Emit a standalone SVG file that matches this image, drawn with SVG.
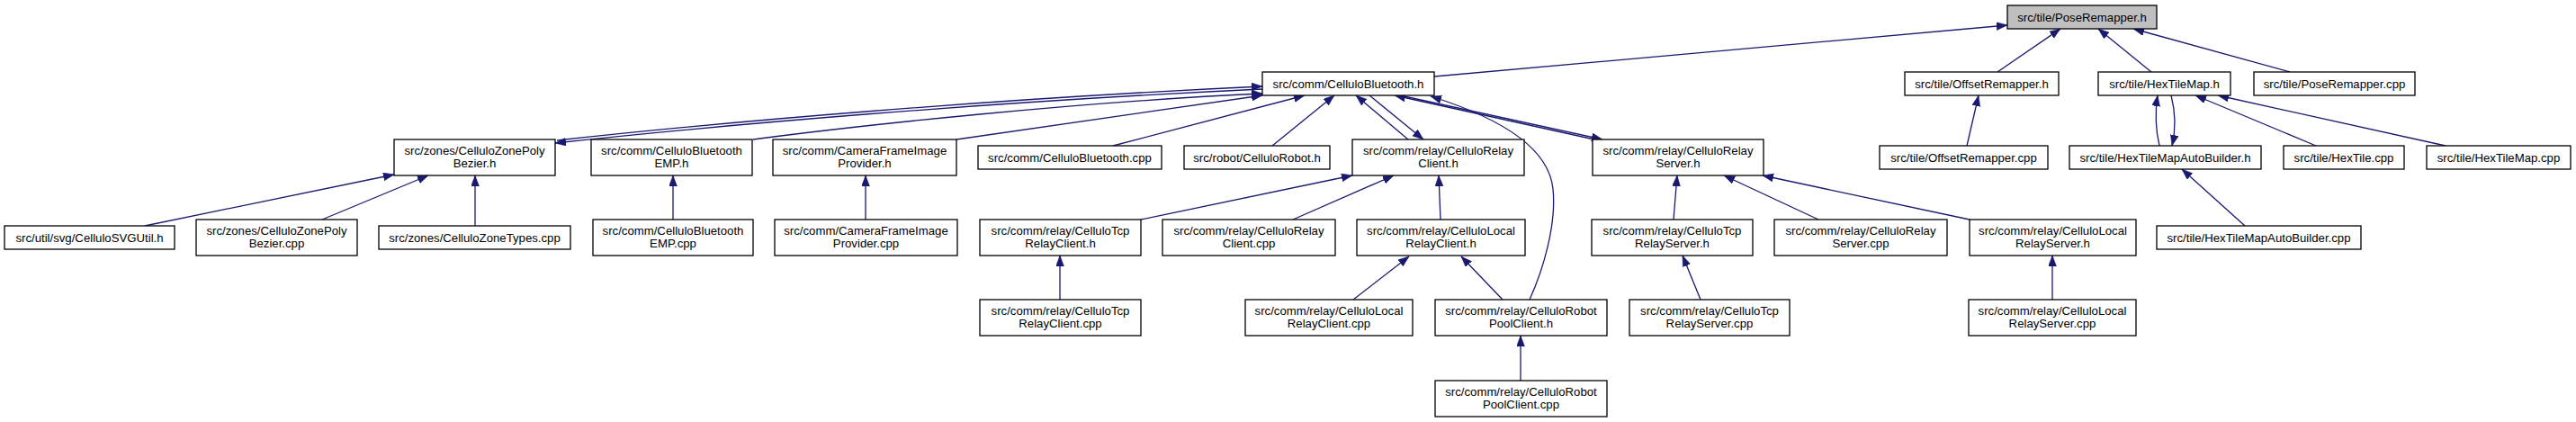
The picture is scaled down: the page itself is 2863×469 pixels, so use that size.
<svg xmlns="http://www.w3.org/2000/svg" width="2863" height="469" viewBox="0 0 2863 469">
<style>
.n rect{fill:#fff;stroke:#000;stroke-width:1.3}
.n rect.root{fill:#bfbfbf}
.n text{font-family:"Liberation Sans",Arial,Helvetica,sans-serif;font-size:13.2px;text-anchor:middle;fill:#000}
.e path{fill:none;stroke:#191970;stroke-width:1.3;marker-end:url(#a)}
</style>
<defs>
<marker id="a" markerUnits="userSpaceOnUse" markerWidth="14" markerHeight="10" refX="12" refY="4.5" orient="auto">
<path d="M0,0 L12,4.5 L0,9 z" fill="#191970" stroke="#191970" stroke-width="0.5"/>
</marker>
</defs>
<rect width="2863" height="469" fill="#fff"/>
<g id="edges" class="e">
<path d="M1594,85 L2231,28"/>
<path d="M2220,80 L2290,32"/>
<path d="M2391,80 L2332,32"/>
<path d="M2545,80 L2371,32"/>
<path d="M2186,162 L2199,106"/>
<path d="M2400,162 C2396,145 2395,125 2398,106"/>
<path d="M2413,106 C2418,125 2418,145 2414,162"/>
<path d="M2574,162 L2440,106"/>
<path d="M2718,162 L2465,106"/>
<path d="M2495,251 L2425,188"/>
<path d="M619,156 C800,136 1100,110 1403,96"/>
<path d="M1403,99 C1100,113 800,139 617,159"/>
<path d="M837,155 C950,140 1200,113 1403,104"/>
<path d="M1063,155 L1403,106"/>
<path d="M1237,162 L1450,106"/>
<path d="M1414,162 L1483,106"/>
<path d="M1565,155 L1507,106"/>
<path d="M1522,106 L1582,155"/>
<path d="M1772,155 L1550,106"/>
<path d="M1556,106 L1781,155"/>
<path d="M1700,333 C1715,300 1730,250 1726,210 C1722,170 1680,135 1590,107"/>
<path d="M1670,333 L1624,285"/>
<path d="M1504,333 L1566,285"/>
<path d="M1601,244 L1599,195"/>
<path d="M1268,244 L1503,195"/>
<path d="M1437,244 L1549,195"/>
<path d="M1178,333 L1178,284"/>
<path d="M1690,423 L1690,373"/>
<path d="M1860,244 L1864,195"/>
<path d="M2021,244 L1916,195"/>
<path d="M2189,244 L1959,195"/>
<path d="M1890,333 L1870,284"/>
<path d="M2281,333 L2281,284"/>
<path d="M528,251 L528,195"/>
<path d="M358,244 L476,195"/>
<path d="M161,251 L438,194"/>
<path d="M748,244 L748,195"/>
<path d="M962,244 L962,195"/>
</g>
<g id="n_PoseRemapper_h" class="n"><rect class="root" x="2231" y="6" width="166" height="26"/><text x="2314" y="23.5">src/tile/PoseRemapper.h</text></g>
<g id="n_CelluloBluetooth_h" class="n"><rect x="1403" y="80" width="191" height="26"/><text x="1498.5" y="97.5">src/comm/CelluloBluetooth.h</text></g>
<g id="n_OffsetRemapper_h" class="n"><rect x="2117" y="80" width="171" height="26"/><text x="2202.5" y="97.5">src/tile/OffsetRemapper.h</text></g>
<g id="n_HexTileMap_h" class="n"><rect x="2332" y="80" width="147" height="26"/><text x="2405.5" y="97.5">src/tile/HexTileMap.h</text></g>
<g id="n_PoseRemapper_cpp" class="n"><rect x="2505" y="80" width="179" height="26"/><text x="2594.5" y="97.5">src/tile/PoseRemapper.cpp</text></g>
<g id="n_ZonePolyBezier_h" class="n"><rect x="438" y="155" width="179" height="40"/><text x="527.5" y="171.5">src/zones/CelluloZonePoly</text><text x="527.5" y="186">Bezier.h</text></g>
<g id="n_BluetoothEMP_h" class="n"><rect x="657" y="155" width="179" height="40"/><text x="746.5" y="171.5">src/comm/CelluloBluetooth</text><text x="746.5" y="186">EMP.h</text></g>
<g id="n_CameraFrameImageProvider_h" class="n"><rect x="859" y="155" width="204" height="40"/><text x="961" y="171.5">src/comm/CameraFrameImage</text><text x="961" y="186">Provider.h</text></g>
<g id="n_CelluloBluetooth_cpp" class="n"><rect x="1087" y="162" width="204" height="26"/><text x="1189" y="179.5">src/comm/CelluloBluetooth.cpp</text></g>
<g id="n_CelluloRobot_h" class="n"><rect x="1316" y="162" width="162" height="26"/><text x="1397" y="179.5">src/robot/CelluloRobot.h</text></g>
<g id="n_CelluloRelayClient_h" class="n"><rect x="1503" y="155" width="191" height="40"/><text x="1598.5" y="171.5">src/comm/relay/CelluloRelay</text><text x="1598.5" y="186">Client.h</text></g>
<g id="n_CelluloRelayServer_h" class="n"><rect x="1770" y="155" width="190" height="40"/><text x="1865" y="171.5">src/comm/relay/CelluloRelay</text><text x="1865" y="186">Server.h</text></g>
<g id="n_OffsetRemapper_cpp" class="n"><rect x="2089" y="162" width="187" height="26"/><text x="2182.5" y="179.5">src/tile/OffsetRemapper.cpp</text></g>
<g id="n_HexTileMapAutoBuilder_h" class="n"><rect x="2300" y="162" width="213" height="26"/><text x="2406.5" y="179.5">src/tile/HexTileMapAutoBuilder.h</text></g>
<g id="n_HexTile_cpp" class="n"><rect x="2538" y="162" width="134" height="26"/><text x="2605" y="179.5">src/tile/HexTile.cpp</text></g>
<g id="n_HexTileMap_cpp" class="n"><rect x="2697" y="162" width="160" height="26"/><text x="2777" y="179.5">src/tile/HexTileMap.cpp</text></g>
<g id="n_CelluloSVGUtil_h" class="n"><rect x="5" y="251" width="189" height="26"/><text x="99.5" y="268.5">src/util/svg/CelluloSVGUtil.h</text></g>
<g id="n_ZonePolyBezier_cpp" class="n"><rect x="218" y="244" width="179" height="40"/><text x="307.5" y="260.5">src/zones/CelluloZonePoly</text><text x="307.5" y="275">Bezier.cpp</text></g>
<g id="n_CelluloZoneTypes_cpp" class="n"><rect x="421" y="251" width="213" height="26"/><text x="527.5" y="268.5">src/zones/CelluloZoneTypes.cpp</text></g>
<g id="n_BluetoothEMP_cpp" class="n"><rect x="659" y="244" width="178" height="40"/><text x="748" y="260.5">src/comm/CelluloBluetooth</text><text x="748" y="275">EMP.cpp</text></g>
<g id="n_CameraFrameImageProvider_cpp" class="n"><rect x="861" y="244" width="203" height="40"/><text x="962.5" y="260.5">src/comm/CameraFrameImage</text><text x="962.5" y="275">Provider.cpp</text></g>
<g id="n_CelluloTcpRelayClient_h" class="n"><rect x="1089" y="244" width="179" height="40"/><text x="1178.5" y="260.5">src/comm/relay/CelluloTcp</text><text x="1178.5" y="275">RelayClient.h</text></g>
<g id="n_CelluloRelayClient_cpp" class="n"><rect x="1292" y="244" width="192" height="40"/><text x="1388" y="260.5">src/comm/relay/CelluloRelay</text><text x="1388" y="275">Client.cpp</text></g>
<g id="n_CelluloLocalRelayClient_h" class="n"><rect x="1508" y="244" width="187" height="40"/><text x="1601.5" y="260.5">src/comm/relay/CelluloLocal</text><text x="1601.5" y="275">RelayClient.h</text></g>
<g id="n_CelluloTcpRelayServer_h" class="n"><rect x="1769" y="244" width="179" height="40"/><text x="1858.5" y="260.5">src/comm/relay/CelluloTcp</text><text x="1858.5" y="275">RelayServer.h</text></g>
<g id="n_CelluloRelayServer_cpp" class="n"><rect x="1972" y="244" width="192" height="40"/><text x="2068" y="260.5">src/comm/relay/CelluloRelay</text><text x="2068" y="275">Server.cpp</text></g>
<g id="n_CelluloLocalRelayServer_h" class="n"><rect x="2189" y="244" width="185" height="40"/><text x="2281.5" y="260.5">src/comm/relay/CelluloLocal</text><text x="2281.5" y="275">RelayServer.h</text></g>
<g id="n_HexTileMapAutoBuilder_cpp" class="n"><rect x="2397" y="251" width="227" height="26"/><text x="2510.5" y="268.5">src/tile/HexTileMapAutoBuilder.cpp</text></g>
<g id="n_CelluloTcpRelayClient_cpp" class="n"><rect x="1089" y="333" width="179" height="40"/><text x="1178.5" y="349.5">src/comm/relay/CelluloTcp</text><text x="1178.5" y="364">RelayClient.cpp</text></g>
<g id="n_CelluloLocalRelayClient_cpp" class="n"><rect x="1384" y="333" width="186" height="40"/><text x="1477" y="349.5">src/comm/relay/CelluloLocal</text><text x="1477" y="364">RelayClient.cpp</text></g>
<g id="n_CelluloRobotPoolClient_h" class="n"><rect x="1595" y="333" width="191" height="40"/><text x="1690.5" y="349.5">src/comm/relay/CelluloRobot</text><text x="1690.5" y="364">PoolClient.h</text></g>
<g id="n_CelluloTcpRelayServer_cpp" class="n"><rect x="1811" y="333" width="178" height="40"/><text x="1900" y="349.5">src/comm/relay/CelluloTcp</text><text x="1900" y="364">RelayServer.cpp</text></g>
<g id="n_CelluloLocalRelayServer_cpp" class="n"><rect x="2188" y="333" width="186" height="40"/><text x="2281" y="349.5">src/comm/relay/CelluloLocal</text><text x="2281" y="364">RelayServer.cpp</text></g>
<g id="n_CelluloRobotPoolClient_cpp" class="n"><rect x="1595" y="423" width="191" height="40"/><text x="1690.5" y="439.5">src/comm/relay/CelluloRobot</text><text x="1690.5" y="454">PoolClient.cpp</text></g>
</svg>
